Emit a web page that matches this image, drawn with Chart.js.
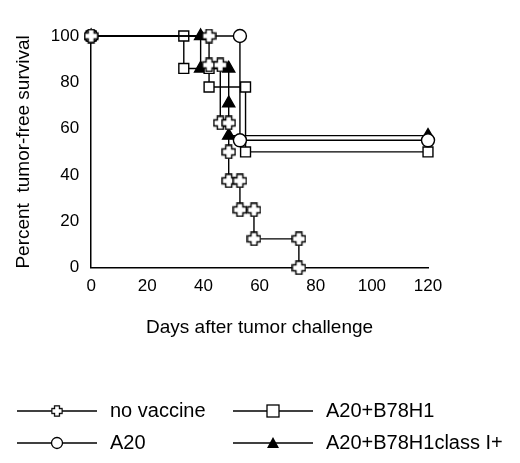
<!DOCTYPE html>
<html>
<head>
<script src="https://cdn.jsdelivr.net/npm/chart.js@4"></script>
<style>
  body { margin: 0; background: #fff; }
  #wrap { width: 520px; height: 463px; }
</style>
</head>
<body>
<div id="wrap"><canvas id="survChart" width="520" height="463"></canvas></div>
<script>
// Kaplan-Meier steps (day, percent)
const noVaccineDays = [0, 42, 42, 46, 46, 49, 49, 49, 53, 53, 58, 58, 74, 74];
const noVaccineVals = [100, 100, 87.5, 87.5, 62.5, 62.5, 50, 37.5, 37.5, 25, 25, 12.5, 12.5, 0];
const a20Days = [0, 53, 53, 120];
const a20Vals = [100, 100, 55, 55];
const b78Days = [0, 33, 33, 42, 42, 55, 55, 120];
const b78Vals = [100, 100, 86, 86, 78, 78, 50, 50];
const classDays = [0, 39, 39, 49, 49, 49, 120];
const classVals = [100, 100, 86, 86, 71, 57, 57];
const xTicks = [0, 20, 40, 60, 80, 100, 120];
const yTicks = [0, 20, 40, 60, 80, 100];

const pts = (xs, ys) => xs.map((x, i) => ({ x: x, y: ys[i] }));

// outlined plus marker
function plusMarker() {
  const c = document.createElement('canvas');
  c.width = 15; c.height = 15;
  const g = c.getContext('2d');
  const a = 4.5, b = 10.5, e = 1, f = 14;
  g.beginPath();
  g.moveTo(a, e); g.lineTo(b, e); g.lineTo(b, a); g.lineTo(f, a); g.lineTo(f, b);
  g.lineTo(b, b); g.lineTo(b, f); g.lineTo(a, f); g.lineTo(a, b); g.lineTo(e, b);
  g.lineTo(e, a); g.lineTo(a, a); g.closePath();
  g.fillStyle = '#fff'; g.fill();
  g.lineWidth = 1.4; g.strokeStyle = '#000'; g.stroke();
  return c;
}
const plus = plusMarker();

const font = { family: 'Arial, "Liberation Sans", sans-serif', size: 17 };

const legendPlugin = {
  id: 'kmLegend',
  afterDraw(chart) {
    const ctx = chart.ctx;
    const spots = [[17, 411], [233, 411], [17, 443], [233, 443]];
    chart.data.datasets.forEach((ds, i) => {
      const [x, y] = spots[i];
      ctx.save();
      ctx.strokeStyle = '#000'; ctx.lineWidth = 1.3;
      ctx.beginPath(); ctx.moveTo(x, y); ctx.lineTo(x + 80, y); ctx.stroke();
      const mx = x + 40;
      if (ds.pointStyle === plus) {
        ctx.drawImage(plus, mx - 6, y - 6, 12, 12);
      } else if (ds.pointStyle === 'circle') {
        ctx.beginPath(); ctx.arc(mx, y, 5.5, 0, Math.PI * 2);
        ctx.fillStyle = '#fff'; ctx.fill(); ctx.stroke();
      } else if (ds.pointStyle === 'rect') {
        ctx.fillStyle = '#fff'; ctx.fillRect(mx - 6, y - 6, 12, 12); ctx.strokeRect(mx - 6, y - 6, 12, 12);
      } else {
        ctx.beginPath(); ctx.moveTo(mx, y - 6); ctx.lineTo(mx + 6, y + 5); ctx.lineTo(mx - 6, y + 5); ctx.closePath();
        ctx.fillStyle = '#000'; ctx.fill();
      }
      ctx.fillStyle = '#000';
      ctx.font = '20px Arial, "Liberation Sans", sans-serif';
      ctx.textBaseline = 'middle';
      ctx.fillText(ds.label, x + 93, y);
      ctx.restore();
    });
  }
};

const line = (label, data, style, fill, r, order) => ({
  label: label, data: data, showLine: true, borderColor: '#000', borderWidth: 1.4,
  pointStyle: style, pointRadius: r, pointBackgroundColor: fill, pointBorderColor: '#000',
  pointBorderWidth: 1.4, clip: false, order: order
});

new Chart(document.getElementById('survChart'), {
  type: 'scatter',
  data: {
    datasets: [
      line('no vaccine', pts(noVaccineDays, noVaccineVals), plus, '#fff', 6, 0),
      line('A20+B78H1', pts(b78Days, b78Vals), 'rect', '#fff', 7, 2),
      line('A20', pts(a20Days, a20Vals), 'circle', '#fff', 6.5, 1),
      line('A20+B78H1class I+', pts(classDays, classVals), 'triangle', '#000', 7, 3)
    ]
  },
  options: {
    responsive: false,
    animation: false,
    layout: { padding: { left: 8, right: 92, top: 36, bottom: 120 } },
    plugins: { legend: { display: false }, tooltip: { enabled: false } },
    scales: {
      x: {
        min: 0, max: 120,
        afterBuildTicks: s => { s.ticks = xTicks.map(v => ({ value: v })); },
        grid: { display: false, drawTicks: false },
        border: { color: '#000', width: 1.5 },
        ticks: { color: '#000', font: font, padding: 8 },
        title: { display: true, text: 'Days after tumor challenge', color: '#000', font: { family: font.family, size: 19 }, padding: { top: 12 } }
      },
      y: {
        min: 0, max: 100,
        afterBuildTicks: s => { s.ticks = yTicks.map(v => ({ value: v })); },
        grid: { display: false, drawTicks: false },
        border: { color: '#000', width: 1.5 },
        ticks: { color: '#000', font: font, padding: 12 },
        title: { display: true, text: 'Percent  tumor-free survival', color: '#000', font: { family: font.family, size: 19 } }
      }
    }
  },
  plugins: [legendPlugin]
});
</script>
</body>
</html>
